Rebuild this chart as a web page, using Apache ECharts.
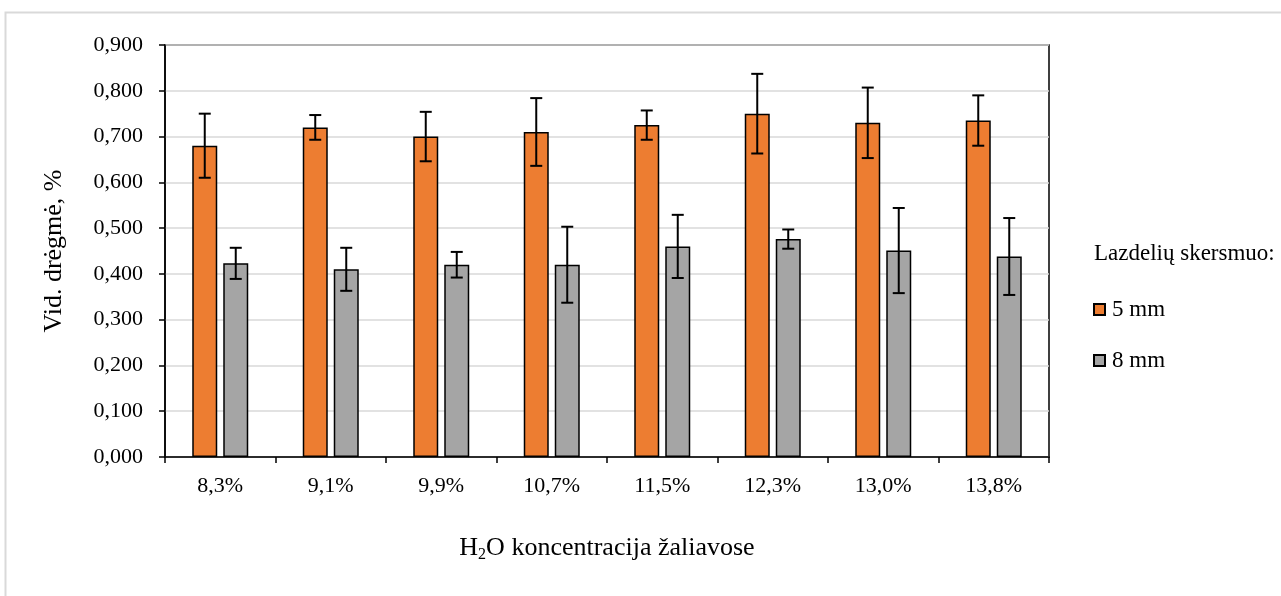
<!DOCTYPE html>
<html>
<head>
<meta charset="utf-8">
<script src="https://cdn.jsdelivr.net/npm/echarts@6/dist/echarts.min.js"></script>
<style>
  html, body { margin: 0; padding: 0; background: #fff; }
  #chart { width: 1281px; height: 596px; }
</style>
</head>
<body>
<div id="chart"></div>
<script>
// Moisture content by raw-material H2O concentration, for two rod diameters
const categories = ['8,3%', '9,1%', '9,9%', '10,7%', '11,5%', '12,3%', '13,0%', '13,8%'];
const mm5 = [0.680, 0.720, 0.700, 0.710, 0.725, 0.750, 0.730, 0.735];
const mm5Err = [0.070, 0.027, 0.054, 0.074, 0.032, 0.087, 0.077, 0.055];
const mm8 = [0.423, 0.410, 0.420, 0.420, 0.460, 0.476, 0.451, 0.438];
const mm8Err = [0.034, 0.047, 0.028, 0.083, 0.069, 0.021, 0.093, 0.084];
const yTicks = { min: 0, max: 0.9, interval: 0.1 };

const FONT = '"Liberation Serif", "Times New Roman", serif';
const BAR_W = 25;
const BAR_GAP = 6;
const OFFSET = (BAR_W + BAR_GAP) / 2;

function errorData(vals, errs) {
  return vals.map((v, i) => [i, v - errs[i], v + errs[i]]);
}

// Vertical whisker with caps, drawn at the bar's offset within its category band
function errorSeries(name, vals, errs, dx) {
  return {
    type: 'custom',
    name: name,
    z: 10,
    silent: true,
    data: errorData(vals, errs),
    encode: { x: 0, y: [1, 2] },
    renderItem: function (params, api) {
      const lo = api.coord([api.value(0), api.value(1)]);
      const hi = api.coord([api.value(0), api.value(2)]);
      const x = lo[0] + dx;
      const cap = 6;
      const style = { stroke: '#000', lineWidth: 2 };
      return {
        type: 'group',
        children: [
          { type: 'line', shape: { x1: x, y1: lo[1], x2: x, y2: hi[1] }, style: style },
          { type: 'line', shape: { x1: x - cap, y1: lo[1], x2: x + cap, y2: lo[1] }, style: style },
          { type: 'line', shape: { x1: x - cap, y1: hi[1], x2: x + cap, y2: hi[1] }, style: style }
        ]
      };
    }
  };
}

const chart = echarts.init(document.getElementById('chart'), null, { renderer: 'canvas' });

chart.setOption({
  animation: false,
  backgroundColor: '#fff',
  textStyle: { fontFamily: FONT, color: '#000' },
  grid: {
    left: 165, right: 232, top: 45, bottom: 139,
    show: true, borderColor: '#000', borderWidth: 1.5, backgroundColor: 'transparent'
  },
  graphic: [
    {
      type: 'rect',
      shape: { x: 5.5, y: 12.5, width: 1400, height: 700 },
      style: { fill: 'none', stroke: '#d9d9d9', lineWidth: 2 },
      silent: true
    },
    {
      type: 'text',
      left: 1094,
      top: 242,
      style: { text: 'Lazdelių skersmuo:', font: '23px ' + FONT, fill: '#000' }
    }
  ],
  legend: {
    data: ['5 mm', '8 mm'],
    orient: 'vertical',
    left: 1093,
    top: 298,
    padding: 0,
    itemWidth: 11,
    itemHeight: 11,
    itemGap: 28,
    icon: 'rect',
    textStyle: { fontFamily: FONT, fontSize: 23, color: '#000', padding: [0, 0, 0, 2] }
  },
  xAxis: {
    type: 'category',
    data: categories,
    axisLine: { lineStyle: { color: '#000', width: 1.5 } },
    axisTick: { show: true, length: 6, lineStyle: { color: '#000', width: 1.5 } },
    axisLabel: { fontFamily: FONT, fontSize: 22, color: '#000', margin: 18 },
    name: 'H{sub|2}O koncentracija žaliavose',
    nameLocation: 'middle',
    nameGap: 76,
    nameTextStyle: {
      fontFamily: FONT, fontSize: 26, color: '#000',
      rich: { sub: { fontFamily: FONT, fontSize: 16, color: '#000', verticalAlign: 'bottom', padding: [14, 0, 0, 0] } }
    }
  },
  yAxis: {
    type: 'value',
    min: yTicks.min,
    max: yTicks.max,
    interval: yTicks.interval,
    axisLine: { show: true, lineStyle: { color: '#000', width: 1.5 } },
    axisTick: { show: true, length: 6, lineStyle: { color: '#000', width: 1.5 } },
    axisLabel: {
      fontFamily: FONT, fontSize: 22, color: '#000', margin: 22,
      formatter: v => v.toFixed(3).replace('.', ',')
    },
    splitLine: { show: true, lineStyle: { color: '#d9d9d9', width: 1.5 } },
    name: 'Vid. drėgmė, %',
    nameLocation: 'middle',
    nameGap: 98,
    nameRotate: 90,
    nameTextStyle: { fontFamily: FONT, fontSize: 26, color: '#000' }
  },
  series: [
    {
      type: 'bar',
      name: '5 mm',
      data: mm5,
      barWidth: BAR_W,
      barGap: (BAR_GAP / BAR_W * 100) + '%',
      itemStyle: { color: '#ED7D31', borderColor: '#000', borderWidth: 1.5 }
    },
    {
      type: 'bar',
      name: '8 mm',
      data: mm8,
      barWidth: BAR_W,
      itemStyle: { color: '#A5A5A5', borderColor: '#000', borderWidth: 1.5 }
    },
    errorSeries('5 mm err', mm5, mm5Err, -OFFSET),
    errorSeries('8 mm err', mm8, mm8Err, OFFSET)
  ]
});
</script>
</body>
</html>
